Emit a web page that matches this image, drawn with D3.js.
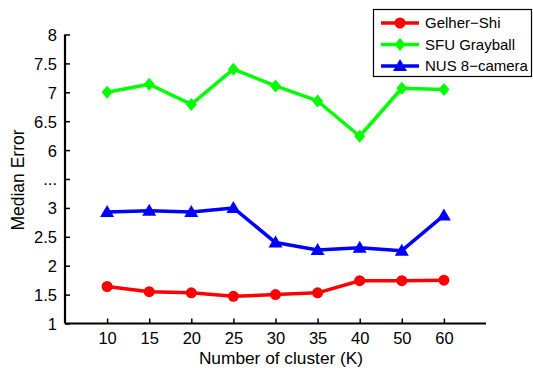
<!DOCTYPE html>
<html>
<head>
<meta charset="utf-8">
<script src="https://cdn.jsdelivr.net/npm/d3@7"></script>
<style>
body { margin: 0; background: #fff; }
text { font-family: "Liberation Sans", Arial, sans-serif; fill: #000; }
</style>
</head>
<body>
<div id="chart"></div>
<script>
var svgwidth = 533;
var svgheight = 368;

// data
var clusters = ["10", "15", "20", "25", "30", "35", "40", "50", "60"];
var gelherShi = [1.64, 1.55, 1.53, 1.47, 1.50, 1.53, 1.74, 1.74, 1.75];
var sfuGrayball = [7.00, 7.14, 6.79, 7.40, 7.11, 6.85, 6.24, 7.07, 7.05];
var nus8camera = [2.93, 2.95, 2.93, 3.00, 2.40, 2.27, 2.31, 2.26, 2.87];
var yTicks = [1, 1.5, 2, 2.5, 3, 4.5, 6, 6.5, 7, 7.5, 8];
var yTickLabels = ["1", "1.5", "2", "2.5", "3", "...", "6", "6.5", "7", "7.5", "8"];

var series = [
    {name: "Gelher\u2212Shi", values: gelherShi, color: "#ff0000", marker: "circle"},
    {name: "SFU Grayball", values: sfuGrayball, color: "#00ff00", marker: "diamond"},
    {name: "NUS 8\u2212camera", values: nus8camera, color: "#0000ff", marker: "triangle"}
];

var plotLeft = 65, plotRight = 486, plotTop = 34.5, plotBottom = 323.5;
var gap = (plotBottom - plotTop) / 10;

var svg = d3.select("#chart").append("svg").attr("width", svgwidth).attr("height", svgheight);

var x = d3.scalePoint().domain(clusters).range([plotLeft, plotRight]).padding(1);
// broken axis: 3..6 squeezed into two tick gaps
var y = d3.scaleLinear().domain([1, 3, 6, 8]).range([plotBottom, plotBottom - 4 * gap, plotTop + 4 * gap, plotTop]);

var xAxis = d3.axisBottom(x).tickSizeInner(-5).tickSizeOuter(0);
var yAxis = d3.axisLeft(y).tickValues(yTicks).tickSizeInner(-5).tickSizeOuter(0).tickPadding(8)
    .tickFormat(function(d, i) { return yTickLabels[i]; });

var gx = svg.append("g").attr("transform", "translate(0," + plotBottom + ")").call(xAxis);
gx.select(".domain").attr("d", "M" + plotLeft + ",0H" + plotRight);
var gy = svg.append("g").attr("transform", "translate(" + plotLeft + ",0)").call(yAxis);
gy.select(".domain").attr("d", "M0," + plotBottom + "V" + plotTop);

svg.selectAll(".domain").attr("stroke", "#000").attr("stroke-width", 2.2);
svg.selectAll(".tick line").attr("stroke", "#000").attr("stroke-width", 1.5);
svg.selectAll(".tick text").attr("font-size", 16.5).attr("font-family", "Liberation Sans, Arial, sans-serif").attr("fill", "#000");
gx.selectAll(".tick text").attr("y", 20.5).attr("dy", 0);
gy.selectAll(".tick text").attr("dy", "0.36em");

// axis titles
svg.append("text")
    .attr("text-anchor", "middle")
    .attr("x", 281)
    .attr("y", 364)
    .attr("font-size", 17.3)
    .text("Number of cluster (K)");

svg.append("text")
    .attr("text-anchor", "middle")
    .attr("transform", "translate(24," + 180 + ") rotate(-90)")
    .attr("font-size", 17.5)
    .text("Median Error");

var line = d3.line()
    .x(function(d, i) { return x(clusters[i]); })
    .y(function(d) { return y(d); });

function drawMarker(g, type, color, cx, cy) {
    if (type == "circle") {
        g.append("circle").attr("cx", cx).attr("cy", cy).attr("r", 5.5).attr("fill", color);
    } else if (type == "diamond") {
        g.append("path").attr("d", "M" + cx + "," + (cy - 6.5) + "L" + (cx + 5.5) + "," + cy + "L" + cx + "," + (cy + 6.5) + "L" + (cx - 5.5) + "," + cy + "Z").attr("fill", color);
    } else {
        g.append("path").attr("d", "M" + cx + "," + (cy - 7) + "L" + (cx + 7) + "," + (cy + 5) + "L" + (cx - 7) + "," + (cy + 5) + "Z").attr("fill", color);
    }
}

series.forEach(function(s) {
    var g = svg.append("g");
    g.append("path")
        .datum(s.values)
        .attr("d", line)
        .attr("fill", "none")
        .attr("stroke", s.color)
        .attr("stroke-width", 3.5)
        .attr("stroke-linejoin", "round");
    s.values.forEach(function(v, i) {
        drawMarker(g, s.marker, s.color, x(clusters[i]), y(v));
    });
});

// legend
var legend = svg.append("g");
legend.append("rect")
    .attr("x", 373.5).attr("y", 9.5).attr("width", 158).attr("height", 67)
    .attr("fill", "#fff").attr("stroke", "#000").attr("stroke-width", 1.2);
series.forEach(function(s, i) {
    var ly = 23 + i * 21.5;
    legend.append("line")
        .attr("x1", 381).attr("x2", 419).attr("y1", ly).attr("y2", ly)
        .attr("stroke", s.color).attr("stroke-width", 3.5);
    drawMarker(legend, s.marker, s.color, 400, ly);
    legend.append("text")
        .attr("x", 425).attr("y", ly).attr("dy", "0.36em")
        .attr("font-size", 15)
        .text(s.name);
});
</script>
</body>
</html>
